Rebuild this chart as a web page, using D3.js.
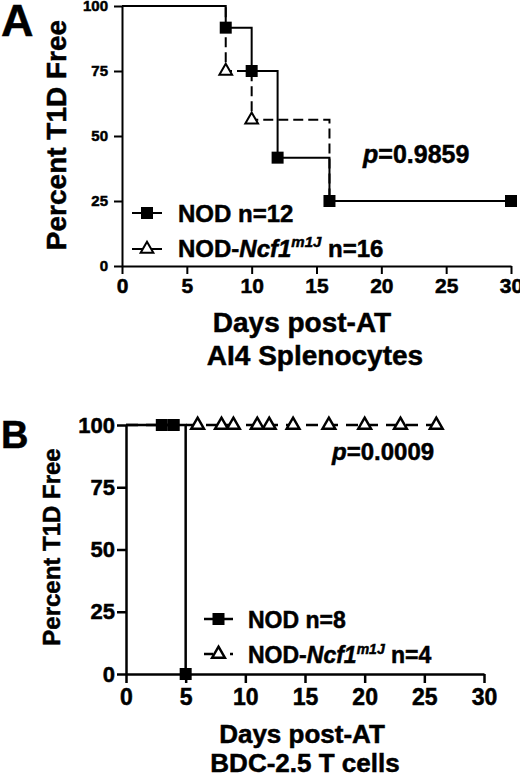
<!DOCTYPE html>
<html>
<head>
<meta charset="utf-8">
<script src="https://cdn.jsdelivr.net/npm/d3@7"></script>
<style>
  body { margin: 0; background: #fff; }
  svg { display: block; }
  text { font-family: Arial, "Liberation Sans", sans-serif; font-weight: bold; fill: #000; stroke: #000; stroke-width: 0.5px; }
</style>
</head>
<body>
<div id="chart"></div>
<script>
const dayTicks = [0, 5, 10, 15, 20, 25, 30]
const pctTicks = [0, 25, 50, 75, 100]

// panel A - AI4 splenocytes
const aNodSteps = [[0, 100], [8, 91.67], [10, 75], [12, 41.67], [16, 25], [30, 25]]
const aNodMarks = [[8, 91.67], [10, 75], [12, 41.67], [16, 25], [30, 25]]
const aNcfSteps = [[0, 100], [8, 75], [10, 56.25], [16, 25], [30, 25]]
const aNcfMarks = [[8, 75], [10, 56.25]]
const aCounts = ['n=12', 'n=16']
const aPValue = '=0.9859'
const aTitle = ['Days post-AT', 'AI4 Splenocytes']

// panel B - BDC-2.5 T cells
const bNodSteps = [[0, 100], [5, 0]]
const bNodMarks = [[3, 100], [4, 100], [5, 0]]
const bNcfSteps = [[0, 100], [26, 100]]
const bNcfMarks = [[6, 100], [8, 100], [9, 100], [11, 100], [12, 100], [14, 100], [17, 100], [20, 100], [23, 100], [26, 100]]
const bCounts = ['n=8', 'n=4']
const bPValue = '=0.0009'
const bTitle = ['Days post-AT', 'BDC-2.5 T cells']

const yLabel = 'Percent T1D Free'

const svg = d3.select('#chart')
  .append('svg')
  .attr('width', 520)
  .attr('height', 775)

function drawPanel(cfg) {
  const { letter, x0, x1, y0, y1, sw, tick, yFont, xFont, yPad, xPad } = cfg
  const x = d3.scaleLinear().domain([0, 30]).range([x0, x1])
  const y = d3.scaleLinear().domain([0, 100]).range([y0, y1])
  const g = svg.append('g')

  const line = d3.line()
    .curve(d3.curveStepAfter)
    .x(d => x(d[0]))
    .y(d => y(d[1]))

  // axes
  const yAxis = g.append('g')
    .attr('transform', `translate(${x0},0)`)
    .call(d3.axisLeft(y).tickValues(pctTicks).tickSize(tick).tickSizeOuter(0).tickPadding(yPad))
  const xAxis = g.append('g')
    .attr('transform', `translate(0,${y0})`)
    .call(d3.axisBottom(x).tickValues(dayTicks).tickSize(tick).tickSizeOuter(0).tickPadding(xPad))
  yAxis.attr('font-family', null).selectAll('text').attr('font-size', yFont)
  xAxis.attr('font-family', null).selectAll('text').attr('font-size', xFont)
  g.selectAll('.domain, .tick line')
    .attr('stroke', '#000')
    .attr('stroke-width', sw)

  // curves: dashed mutant first, NOD solid on top
  g.append('path')
    .attr('d', line(cfg.ncfSteps))
    .attr('fill', 'none')
    .attr('stroke', '#000')
    .attr('stroke-width', sw)
    .attr('stroke-dasharray', cfg.dash)
  g.selectAll('path.tri')
    .data(cfg.ncfMarks)
    .enter()
      .append('path')
      .attr('class', 'tri')
      .attr('transform', d => `translate(${x(d[0])},${y(d[1])})`)
      .attr('d', d3.symbol(d3.symbolTriangle, cfg.triSize))
      .attr('fill', '#fff')
      .attr('stroke', '#000')
      .attr('stroke-width', sw)

  g.append('path')
    .attr('d', line(cfg.nodSteps))
    .attr('fill', 'none')
    .attr('stroke', '#000')
    .attr('stroke-width', sw)
  g.selectAll('path.sq')
    .data(cfg.nodMarks)
    .enter()
      .append('path')
      .attr('class', 'sq')
      .attr('transform', d => `translate(${x(d[0])},${y(d[1])})`)
      .attr('d', d3.symbol(d3.symbolSquare, cfg.sqSize))
      .attr('fill', '#000')

  // panel letter
  g.append('text')
    .attr('x', cfg.letterX)
    .attr('y', cfg.letterY)
    .attr('font-size', cfg.letterFont)
    .text(letter)

  // y label
  g.append('text')
    .attr('transform', `translate(${cfg.yLabelX},${cfg.yLabelY}) rotate(-90)`)
    .attr('text-anchor', 'middle')
    .attr('font-size', cfg.yLabelFont)
    .text(yLabel)

  // x title
  cfg.title.forEach((t, i) => {
    g.append('text')
      .attr('x', cfg.titleX[i])
      .attr('y', cfg.titleY[i])
      .attr('text-anchor', 'middle')
      .attr('font-size', cfg.titleFont)
      .text(t)
  })

  // p value
  const p = g.append('text')
    .attr('x', cfg.pX)
    .attr('y', cfg.pY)
    .attr('font-size', cfg.pFont)
  p.append('tspan').attr('font-style', 'italic').text('p')
  p.append('tspan').text(cfg.pValue)

  // legend
  const lg = cfg.legend
  const row1 = g.append('g')
  row1.append('line')
    .attr('x1', lg.x0).attr('x2', lg.x1)
    .attr('y1', lg.y[0]).attr('y2', lg.y[0])
    .attr('stroke', '#000').attr('stroke-width', sw)
  row1.append('path')
    .attr('transform', `translate(${(lg.x0 + lg.x1) / 2},${lg.y[0]})`)
    .attr('d', d3.symbol(d3.symbolSquare, cfg.sqSize))
    .attr('fill', '#000')
  row1.append('text')
    .attr('x', lg.tx)
    .attr('y', lg.ty[0])
    .attr('font-size', lg.font)
    .text('NOD ' + cfg.counts[0])

  const row2 = g.append('g')
  row2.append('line')
    .attr('x1', lg.x0).attr('x2', lg.x1)
    .attr('y1', lg.y[1]).attr('y2', lg.y[1])
    .attr('stroke', '#000').attr('stroke-width', sw)
    .attr('stroke-dasharray', lg.dash)
  row2.append('path')
    .attr('transform', `translate(${(lg.x0 + lg.x1) / 2},${lg.y[1]})`)
    .attr('d', d3.symbol(d3.symbolTriangle, cfg.triSize))
    .attr('fill', '#fff')
    .attr('stroke', '#000')
    .attr('stroke-width', sw)
  const t2 = row2.append('text')
    .attr('x', lg.tx)
    .attr('y', lg.ty[1])
    .attr('font-size', lg.font)
  t2.append('tspan').text('NOD-')
  t2.append('tspan').attr('font-style', 'italic').text('Ncf1')
  t2.append('tspan')
    .attr('font-style', 'italic')
    .attr('font-size', lg.supFont)
    .attr('dy', -lg.supRise)
    .text('m1J')
  t2.append('tspan')
    .attr('dy', lg.supRise)
    .text(' ' + cfg.counts[1])
}

drawPanel({
  letter: 'A', x0: 122, x1: 511, y0: 266, y1: 6,
  sw: 2, tick: 8, yFont: 15, xFont: 21, yPad: 6, xPad: 4,
  nodSteps: aNodSteps, nodMarks: aNodMarks, ncfSteps: aNcfSteps, ncfMarks: aNcfMarks,
  dash: '10,5', sqSize: 144, triSize: 70,
  letterX: 1, letterY: 36, letterFont: 45,
  yLabelX: 66, yLabelY: 135, yLabelFont: 28,
  title: aTitle, titleX: [302, 315], titleY: [332, 365], titleFont: 28,
  pValue: aPValue, pX: 363, pY: 163, pFont: 25,
  counts: aCounts,
  legend: { x0: 132, x1: 162, y: [213, 249], tx: 178, ty: [222, 257], font: 24, supFont: 15, supRise: 10, dash: null }
})

drawPanel({
  letter: 'B', x0: 126, x1: 484, y0: 674, y1: 425,
  sw: 2.5, tick: 9, yFont: 22, xFont: 23, yPad: 2, xPad: 6,
  nodSteps: bNodSteps, nodMarks: bNodMarks, ncfSteps: bNcfSteps, ncfMarks: bNcfMarks,
  dash: '12,8', sqSize: 144, triSize: 70,
  letterX: 1, letterY: 448, letterFont: 38,
  yLabelX: 60, yLabelY: 547, yLabelFont: 24,
  title: bTitle, titleX: [302, 305], titleY: [743, 772], titleFont: 26,
  pValue: bPValue, pX: 332, pY: 460, pFont: 24,
  counts: bCounts,
  legend: { x0: 204, x1: 233, y: [619, 654], tx: 248, ty: [628, 663], font: 23, supFont: 14, supRise: 9, dash: '9,17,3' }
})
</script>
</body>
</html>
